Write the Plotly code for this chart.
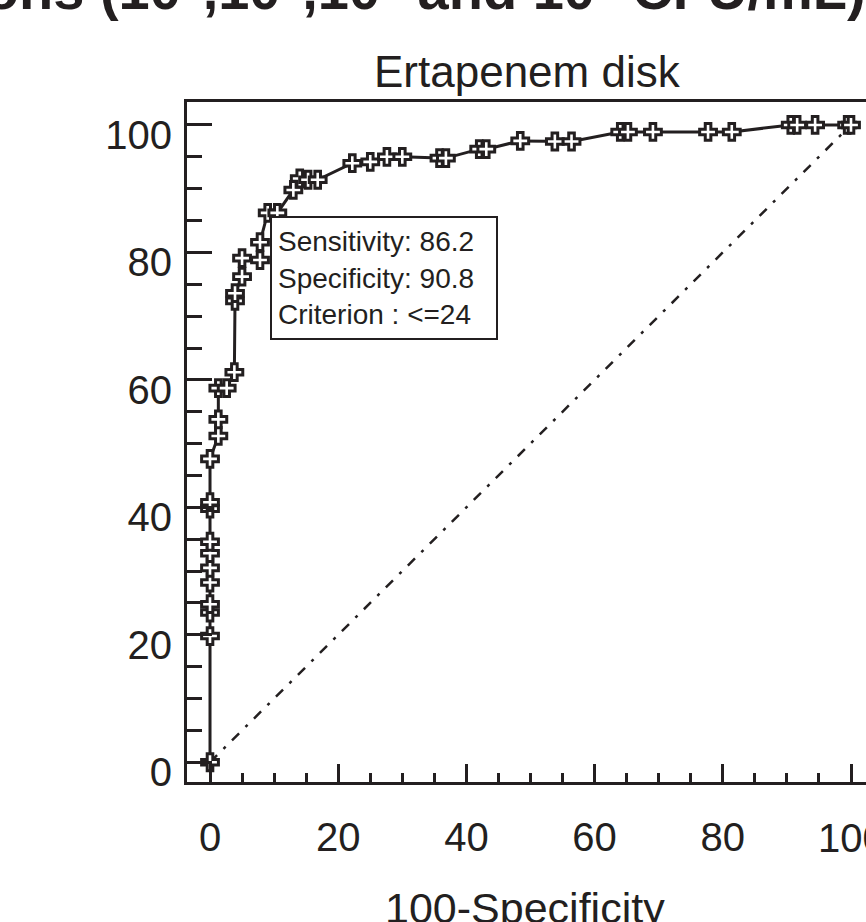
import plotly.graph_objects as go

# ROC points: 100-Specificity (x) vs Sensitivity (y)
fpr = [0, 0, 0, 0, 0, 0, 0, 0, 0, 0, 0,
       1.3, 1.3, 1.3, 2.6, 3.8, 3.9, 3.9, 5.0, 5.0, 7.8, 7.8,
       9.0, 10.5, 13.0, 14.0, 15.3, 16.8, 22.2, 25.0, 27.6, 30.0,
       35.8, 36.8, 42.0, 43.1, 48.4, 53.8, 56.4, 64.0, 65.2, 69.1,
       77.7, 81.4, 90.6, 91.6, 94.4, 99.4, 100]
sens = [0, 19.8, 23.5, 24.8, 28.2, 30.5, 32.8, 34.6, 39.8, 40.8, 47.6,
        51.2, 53.8, 58.7, 58.7, 61.2, 72.4, 73.6, 76.2, 79.1, 78.8, 81.6,
        86.2, 86.2, 89.8, 91.6, 91.4, 91.4, 94.0, 94.2, 95.0, 95.0,
        94.8, 94.8, 96.2, 96.2, 97.5, 97.4, 97.4, 98.9, 98.9, 98.9,
        98.9, 98.9, 100, 100, 100, 100, 100]
diag = [0, 100]
x_ticks = [0, 20, 40, 60, 80, 100]
y_ticks = [0, 20, 40, 60, 80, 100]

FONT = "Liberation Sans, Arial, sans-serif"
INK = "#231f20"

W, H = 866, 922
L, T, R = 187, 102, 0
B = H - 782
pw, ph = W - L - R, H - T - B

def px(x):
    return (x - L) / pw

def py(y):
    return (H - B - y) / ph

fig = go.Figure()
fig.add_trace(go.Scatter(x=diag, y=diag, mode="lines",
                         line=dict(color=INK, width=2.5, dash="10px,9px,3px,9px"),
                         hoverinfo="skip", showlegend=False))
fig.add_trace(go.Scatter(x=fpr, y=sens, mode="lines+markers",
                         line=dict(color=INK, width=3),
                         marker=dict(symbol="cross", size=14, color="white",
                                     line=dict(color=INK, width=3)),
                         showlegend=False))

# last x tick label sits at the page edge; draw it as text so it is clipped like the reference
x_text = [str(v) for v in x_ticks]
edge_label = x_text[-1]
x_text[-1] = ""

fig.update_xaxes(range=[-3.59, 102.34], tickvals=x_ticks, ticktext=x_text,
                 showgrid=False, zeroline=False, showline=True,
                 linecolor=INK, linewidth=3, mirror=True,
                 ticks="inside", ticklen=18, tickwidth=3, tickcolor=INK,
                 minor=dict(dtick=5, tick0=0, ticks="inside", ticklen=9,
                            tickwidth=3, tickcolor=INK, showgrid=False),
                 tickfont=dict(family=FONT, size=40, color=INK),
                 ticklabelstandoff=18)
fig.update_yaxes(range=[-3.1, 103.6], tickvals=y_ticks,
                 ticktext=[str(v) for v in y_ticks],
                 showgrid=False, zeroline=False, showline=True,
                 linecolor=INK, linewidth=3,
                 ticks="inside", ticklen=25, tickwidth=3, tickcolor=INK,
                 minor=dict(dtick=5, tick0=0, ticks="inside", ticklen=15,
                            tickwidth=3, tickcolor=INK, showgrid=False),
                 tickfont=dict(family=FONT, size=40, color=INK),
                 ticklabelstandoff=4, ticklabelshift=10)

annotations = [
    dict(text="<b>Detection at bacterial concentrations (10<sup>4</sup>,10<sup>3</sup>,10<sup>2</sup> and 10<sup>1</sup> CFU/mL)</b>",
         x=px(868), y=py(-14), xref="paper", yref="paper",
         xanchor="right", yanchor="middle", showarrow=False,
         font=dict(family=FONT, size=56, color=INK)),
    dict(text="Ertapenem disk", x=px(527), y=py(72), xref="paper", yref="paper",
         xanchor="center", yanchor="middle", showarrow=False,
         font=dict(family=FONT, size=44, color=INK)),
    dict(text="100-Specificity", x=px(525), y=py(908), xref="paper", yref="paper",
         xanchor="center", yanchor="middle", showarrow=False,
         font=dict(family=FONT, size=43, color=INK)),
    dict(text=edge_label, x=x_ticks[-1], y=py(838), xref="x", yref="paper",
         xanchor="center", yanchor="middle", showarrow=False,
         font=dict(family=FONT, size=40, color=INK)),
    dict(text="Sensitivity: 86.2<br>Specificity: 90.8<br>Criterion : <=24",
         x=px(270), y=py(216), xref="paper", yref="paper",
         xanchor="left", yanchor="top", showarrow=False, align="left",
         width=212, height=108, borderpad=6,
         bordercolor=INK, borderwidth=2, bgcolor="white",
         font=dict(family=FONT, size=28, color=INK)),
]

fig.update_layout(width=W, height=H,
                  margin=dict(l=L, r=R, t=T, b=B, pad=0),
                  paper_bgcolor="white", plot_bgcolor="white",
                  annotations=annotations, showlegend=False)

fig.write_html("out.html",
               config={"displayModeBar": False},
               post_script="document.body.style.margin='0';document.body.style.overflow='hidden';")
